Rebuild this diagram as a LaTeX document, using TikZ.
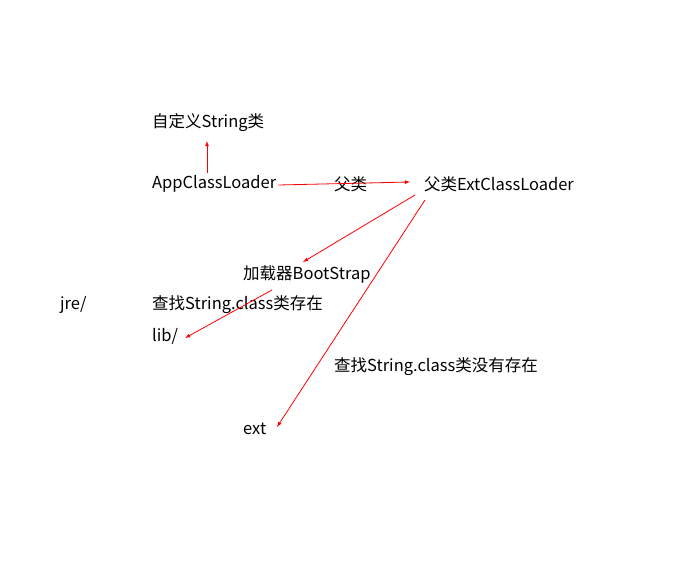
\documentclass[tikz,border=0pt]{standalone}
\usepackage{fontspec}
\setmainfont{Noto Sans CJK SC}
\begin{document}
\begin{tikzpicture}[x=1pt,y=-1pt,
  lbl/.style={anchor=west,inner sep=0pt,font=\fontsize{16.5}{18}\selectfont},
  arr/.style={red,-latex,line width=0.8pt}]
\useasboundingbox[fill=white] (0,0) rectangle (696,564);
\node[lbl] (zdy) at (152,123) {自定义String类};
\node[lbl] (app) at (152,184) {AppClassLoader};
\node[lbl] (fl) at (334,184) {父类};
\node[lbl] (ext) at (424,184) {父类ExtClassLoader};
\node[lbl] (boot) at (243,274) {加载器BootStrap};
\node[lbl] (jre) at (60,305) {jre/};
\node[lbl] (cz) at (152,305) {查找String.class类存在};
\node[lbl] (lib) at (152,336) {lib/};
\node[lbl] (czn) at (334,367) {查找String.class类没有存在};
\node[lbl] (extd) at (243,429) {ext};
\coordinate (a1) at (207,173);
\coordinate (a2) at (207,141);
\draw[arr] (a1) -- (a2);
\draw[arr] (app.east) ++(2,1) coordinate (b1) -- (410,182) coordinate (b2);
\draw[arr] (415,195) coordinate (c1) -- (303,262) coordinate (c2);
\draw[arr] (425,200) coordinate (d1) -- (277,427) coordinate (d2);
\draw[arr] (272,290) coordinate (e1) -- (185,338) coordinate (e2);
\end{tikzpicture}
\end{document}
